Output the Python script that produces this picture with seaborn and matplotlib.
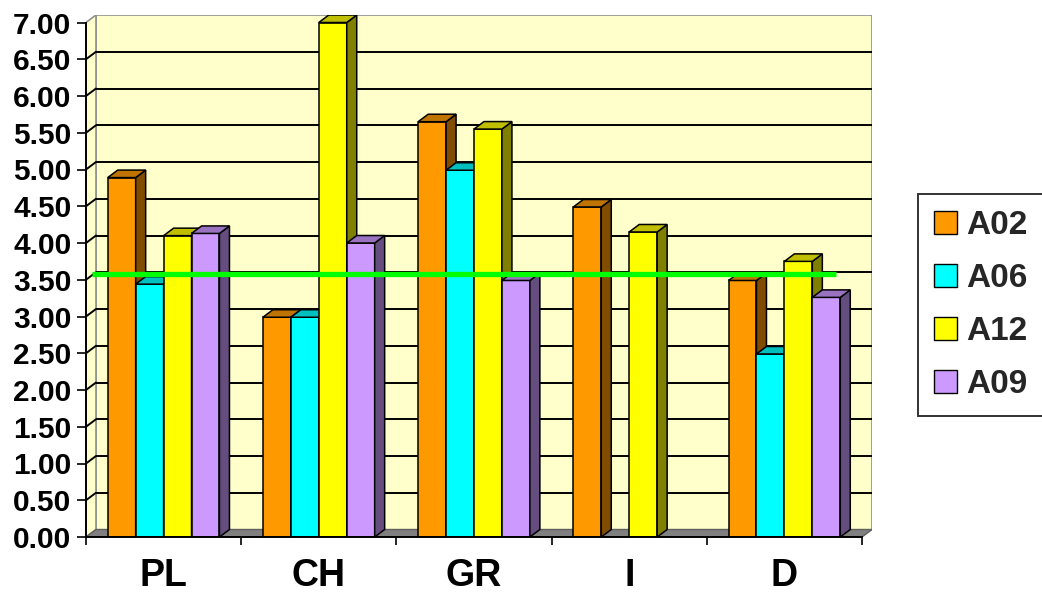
import numpy as np
import pandas as pd
import matplotlib
matplotlib.use("Agg")
import matplotlib.pyplot as plt
import seaborn as sns
from matplotlib.patches import Polygon, Patch
from matplotlib.ticker import FixedLocator, FormatStrFormatter
from matplotlib.colors import to_rgb

# --- data ---
categories = ["PL", "CH", "GR", "I", "D"]
series = ["A02", "A06", "A12", "A09"]
a02 = [4.89, 2.99, 5.65, 4.49, 3.49]
a06 = [3.44, 2.99, 4.99, np.nan, 2.49]
a12 = [4.10, 7.00, 5.55, 4.15, 3.75]
a09 = [4.13, 4.00, 3.49, np.nan, 3.26]
target = 3.58
colors = ["#FF9900", "#00FFFF", "#FFFF00", "#CC99FF"]
yticks = [0.0, 0.5, 1.0, 1.5, 2.0, 2.5, 3.0, 3.5, 4.0, 4.5, 5.0, 5.5, 6.0, 6.5, 7.0]

df = pd.DataFrame({
    "cat": categories * 4,
    "series": [s for s in series for _ in categories],
    "value": a02 + a06 + a12 + a09,
})

sns.set_theme(style="white")
plt.rcParams["font.family"] = ["Liberation Sans", "DejaVu Sans"]
plt.rcParams["font.weight"] = "bold"

W, H = 1042, 595
fig = plt.figure(figsize=(W / 100, H / 100), dpi=100)
# front plane: x 86..862 px, zero at y 537 ; back wall sits 10 px right, 7.5 px up
px_per_cat = (862 - 86) / 5.0
px_per_unit = 73.5
DX = 10 / px_per_cat
DY = 7.5 / px_per_unit
ymax = 7.0
ax_left, ax_right = 86, 862 + 10
ax_bottom = 537
ax_top = ax_bottom - (ymax + DY) * px_per_unit
ax = fig.add_axes([ax_left / W, (H - ax_bottom) / H,
                   (ax_right - ax_left) / W, (ax_bottom - ax_top) / H])
ax.set_facecolor("none")

sns.barplot(data=df, x="cat", y="value", hue="series", order=categories,
            hue_order=series, palette=colors, width=0.72, saturation=1,
            edgecolor="black", linewidth=1.1, legend=False, ax=ax)

ax.set_xlim(-0.5, 4.5 + DX)
ax.set_ylim(0, ymax + DY)

wall = "#FFFFCC"
grey = "#909090"
x0, x1 = -0.5, 4.5
# back wall, left wall, floor
ax.add_patch(Polygon([(x0 + DX, DY), (x1 + DX, DY), (x1 + DX, ymax + DY), (x0 + DX, ymax + DY)],
                     closed=True, facecolor=wall, edgecolor=grey, lw=1.2, zorder=0.1))
ax.add_patch(Polygon([(x0, 0), (x0 + DX, DY), (x0 + DX, ymax + DY), (x0, ymax)],
                     closed=True, facecolor=wall, edgecolor=grey, lw=1.2, zorder=0.2))
ax.add_patch(Polygon([(x0, 0), (x1, 0), (x1 + DX, DY), (x0 + DX, DY)],
                     closed=True, facecolor="#808080", edgecolor="#606060", lw=1.0, zorder=0.3))
# gridlines on the back and left walls
for v in yticks[1:-1]:
    ax.plot([x0 + DX, x1 + DX], [v + DY, v + DY], color="black", lw=1.4, zorder=0.4,
            solid_capstyle="butt")
    ax.plot([x0, x0 + DX], [v, v + DY], color="black", lw=1.4, zorder=0.4)

# bars: add depth faces, drawn left to right so neighbours overlap correctly
bars = [p for p in ax.patches if hasattr(p, "get_width") and not np.isnan(p.get_height())
        and p.get_height() > 0]
bars.sort(key=lambda p: p.get_x())
for i, p in enumerate(bars):
    x, w, h = p.get_x(), p.get_width(), p.get_height()
    c = np.array(to_rgb(p.get_facecolor()))
    z = 2 + 3 * i
    p.set_zorder(z)
    side = Polygon([(x + w, 0), (x + w + DX, DY), (x + w + DX, h + DY), (x + w, h)],
                   closed=True, facecolor=c * 0.5, edgecolor="black", lw=1.1, zorder=z + 1)
    top = Polygon([(x, h), (x + w, h), (x + w + DX, h + DY), (x + DX, h + DY)],
                  closed=True, facecolor=c * 0.75, edgecolor="black", lw=1.1, zorder=z + 2)
    ax.add_patch(side)
    ax.add_patch(top)

# reference level
ax.plot([-0.46, 4.33], [target, target], color="#00FF00", lw=3.8, zorder=200,
        solid_capstyle="butt")

# axes lines and ticks
for s in ["top", "right"]:
    ax.spines[s].set_visible(False)
ax.spines["left"].set_bounds(0, ymax)
ax.spines["bottom"].set_bounds(x0, x1)
for s in ["left", "bottom"]:
    ax.spines[s].set_color("black")
    ax.spines[s].set_linewidth(1.4)
    ax.spines[s].set_zorder(300)

ax.yaxis.set_major_locator(FixedLocator(yticks))
ax.yaxis.set_major_formatter(FormatStrFormatter("%.2f"))
ax.tick_params(axis="y", which="major", left=True, length=6.5, width=1.2, color="black",
               labelsize=21.5, pad=4)
ax.set_xticks(range(len(categories)))
ax.set_xticklabels(categories)
ax.set_xticks([x0 + k for k in range(len(categories) + 1)], minor=True)
ax.tick_params(axis="x", which="major", length=0, labelsize=27, pad=15)
ax.tick_params(axis="x", which="minor", bottom=True, length=6, width=1.2, color="black")
for lab in ax.get_xticklabels() + ax.get_yticklabels():
    lab.set_fontweight("bold")
    lab.set_color("black")
ax.set_xlabel("")
ax.set_ylabel("")

handles = [Patch(facecolor=c, edgecolor="black", lw=1.0) for c in colors]
leg = fig.legend(handles, series, loc="upper left", bbox_to_anchor=(918 / W, 1 - 194 / H),
                 frameon=True, fancybox=False, edgecolor="black",
                 prop={"size": 24, "weight": "bold"},
                 handlelength=0.68, handleheight=0.68, handletextpad=0.3, labelspacing=0.66,
                 borderpad=0.48, borderaxespad=0)
leg.get_frame().set_linewidth(1.4)

fig.savefig("out.png", dpi=100)
